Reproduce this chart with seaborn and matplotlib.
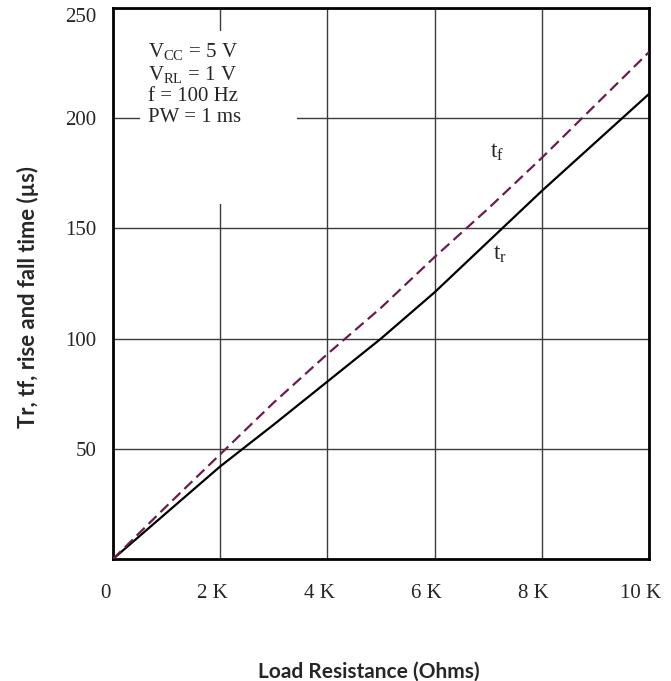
import matplotlib
matplotlib.use("Agg")
import matplotlib.pyplot as plt
import matplotlib.patches as mpatches
import matplotlib.transforms as mtransforms
import seaborn as sns
import pandas as pd

# Data (load resistance in ohms, times in microseconds)
load_ohms = [0, 1000, 2000, 3000, 4000, 5000, 6000, 7000, 8000, 9000, 10000]
t_rise = [0, 21, 42, 61, 80.5, 100, 121, 144, 167, 189, 211]
t_fall = [0, 24, 47.5, 71, 93, 114, 137, 159, 182, 206, 230]

x_ticks = [0, 2000, 4000, 6000, 8000, 10000]
x_tick_labels = ["0", "2 K", "4 K", "6 K", "8 K", "10 K"]
y_ticks = [50, 100, 150, 200, 250]

conditions = ["$\\mathregular{V_{CC}}$ = 5 V", "$\\mathregular{V_{RL}}$ = 1 V",
              "f = 100 Hz", "PW = 1 ms"]

df = pd.DataFrame({"load": load_ohms, "tr": t_rise, "tf": t_fall})

sns.set_style("white")
plt.rcParams["font.family"] = ["Liberation Serif", "DejaVu Serif"]
plt.rcParams["mathtext.fontset"] = "custom"
plt.rcParams["mathtext.rm"] = "Liberation Serif"
plt.rcParams["mathtext.it"] = "Liberation Serif:italic"

fig = plt.figure(figsize=(6.71, 6.81), dpi=100)
ax = fig.add_axes([113 / 671, 1 - 559 / 681, 536 / 671, 551 / 681])

sns.lineplot(data=df, x="load", y="tr", ax=ax, color="black", linewidth=1.6, zorder=3)
sns.lineplot(data=df, x="load", y="tf", ax=ax, color="#6b1d4f", linewidth=1.6,
             zorder=3).lines[-1].set_dashes((5, 2.5))

ax.set_xlim(0, 10000)
ax.set_ylim(0, 250)
ax.set_xticks(x_ticks)
ax.set_xticklabels(x_tick_labels)
ax.set_yticks(y_ticks)
ax.tick_params(axis="both", length=0, labelsize=15)
ax.tick_params(axis="x", pad=18)
ax.tick_params(axis="y", pad=12)
# tick labels in the original sit a little left of their grid lines
shift = mtransforms.ScaledTranslation(-8 / 100, 0, fig.dpi_scale_trans)
for lab in ax.get_xticklabels():
    lab.set_transform(lab.get_transform() + shift)
ax.get_yticklabels()[-1].set_va("top")

ax.grid(True, color="#3c3c3c", linewidth=1.0)
ax.set_axisbelow(True)
for s in ax.spines.values():
    s.set_color("black")
    s.set_linewidth(2)

# white box behind the test conditions, covering the grid
ax.add_patch(mpatches.Rectangle((500, 161), 2930, 78.5, facecolor="white",
                                edgecolor="none", zorder=2))
ax.text(650, 235, "\n".join(conditions), fontsize=15, va="top", ha="left",
        linespacing=1.14, zorder=4)

ax.text(7160, 184.5, "$\\mathregular{t_f}$", fontsize=17, ha="center", va="center")
ax.text(7220, 138, "$\\mathregular{t_r}$", fontsize=17, ha="center", va="center")

ax.set_xlabel("Load Resistance (Ohms)", fontsize=15, fontweight="bold", family="Lato")
ax.set_ylabel("Tr, tf, rise and fall time (\u00b5s)", fontsize=15.8, fontweight="bold",
              family="Lato")
ax.xaxis.set_label_coords(0.4767, -0.187)
ax.yaxis.set_label_coords(-0.138, 0.4764)

fig.savefig("out.png", dpi=100)
